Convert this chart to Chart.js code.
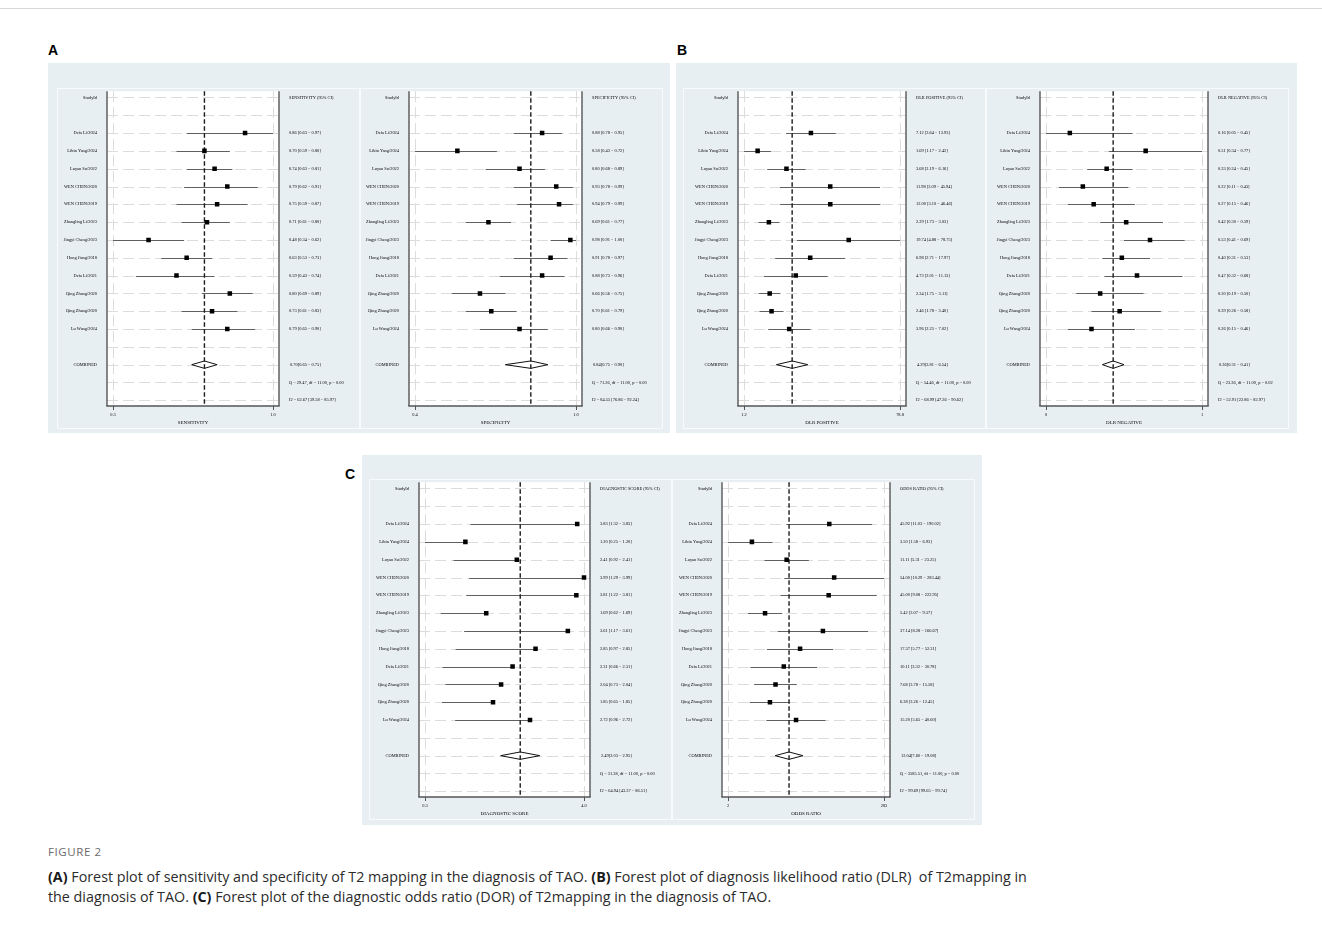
<!DOCTYPE html>
<html>
<head>
<meta charset="utf-8">
<script src="https://cdn.jsdelivr.net/npm/chart.js@4.4.1/dist/chart.umd.min.js"></script>
<style>
  html, body { margin: 0; padding: 0; background: #fff; }
  body { width: 1322px; height: 933px; position: relative; overflow: hidden; }
  .topline { position: absolute; left: 0; top: 8px; width: 1322px; height: 1px; background: #d8d8d8; }
  .panel { position: absolute; background: #e8eff2; }
  .box { position: absolute; box-sizing: border-box; border: 1px solid #f8fbfc; }
  canvas { position: absolute; }
  .plabel { position: absolute; font: bold 14px "Liberation Sans", Arial, sans-serif; color: #000; }
  .figno { position: absolute; left: 48px; top: 844px; font: 11.5px "Open Sans", sans-serif; letter-spacing: 0.6px; color: #6b6b6b; }
  .cap { position: absolute; left: 48px; font: 14.3px "Open Sans", sans-serif; color: #2b2b2b; white-space: nowrap; }
  .cap b { font-weight: 700; color: #1a1a1a; }
</style>
</head>
<body>
<div class="topline"></div>

<div class="panel" style="left:48px;top:63px;width:622px;height:370px"></div>
<div class="panel" style="left:676px;top:63px;width:621px;height:370px"></div>
<div class="panel" style="left:362px;top:455px;width:620px;height:370px"></div>

<div class="plabel" style="left:48px;top:42px">A</div>
<div class="plabel" style="left:677px;top:42px">B</div>
<div class="plabel" style="left:345px;top:466px">C</div>

<div class="figno">FIGURE 2</div>
<div class="cap" style="top:867px"><b>(A)</b> Forest plot of sensitivity and specificity of T2 mapping in the diagnosis of TAO. <b>(B)</b> Forest plot of diagnosis likelihood ratio (DLR)&nbsp; of T2mapping in</div>
<div class="cap" style="top:887px">the diagnosis of TAO. <b>(C)</b> Forest plot of the diagnostic odds ratio (DOR) of T2mapping in the diagnosis of TAO.</div>

<script>
// ---- study list shared by every forest plot ----
const studies = ['Defa Li/2024', 'Libin Yang/2024', 'Luyan Su/2022', 'WEN CHEN/2020', 'WEN CHEN/2019',
  'Zhangling Li/2023', 'Jingyi Cheng/2023', 'Hong Jiang/2018', 'Defa Li/2021', 'Qing Zhang/2020',
  'Qing Zhang/2020', 'Lu Wang/2024'];

// ---- sensitivity ----
const sensEst = [0.86, 0.70, 0.74, 0.79, 0.75, 0.71, 0.48, 0.63, 0.59, 0.80, 0.73, 0.79];
const sensLo  = [0.63, 0.59, 0.63, 0.62, 0.59, 0.61, 0.34, 0.53, 0.43, 0.69, 0.61, 0.65];
const sensHi  = [0.97, 0.80, 0.81, 0.91, 0.87, 0.80, 0.62, 0.73, 0.74, 0.89, 0.83, 0.90];
const sensPooled = [0.70, 0.65, 0.75];
const sensStats = ['Q = 29.47, df = 11.00, p = 0.00', 'I2 = 62.67 [39.58 \u2212 85.97]'];
const sensTicks = [0.34, 0.97];
const sensTickLabels = ['0.3', '1.0'];

// ---- specificity ----
const specEst = [0.88, 0.58, 0.80, 0.93, 0.94, 0.69, 0.98, 0.91, 0.88, 0.66, 0.70, 0.80];
const specLo  = [0.78, 0.43, 0.68, 0.78, 0.79, 0.61, 0.91, 0.78, 0.73, 0.56, 0.61, 0.66];
const specHi  = [0.95, 0.72, 0.89, 0.99, 0.99, 0.77, 1.00, 0.97, 0.96, 0.75, 0.79, 0.90];
const specPooled = [0.84, 0.75, 0.90];
const specStats = ['Q = 71.26, df = 11.00, p = 0.00', 'I2 = 84.55 [76.86 \u2212 92.24]'];
const specTicks = [0.43, 1.00];
const specTickLabels = ['0.4', '1.0'];

// ---- positive likelihood ratio ----
const dlrpEst = [7.12, 1.69, 3.68, 11.98, 12.00, 2.29, 19.74, 6.98, 4.73, 2.34, 2.46, 3.96];
const dlrpLo  = [3.64, 1.17, 2.19, 3.09, 3.10, 1.73, 4.88, 2.71, 2.01, 1.75, 1.78, 2.25];
const dlrpHi  = [13.93, 2.42, 6.16, 45.94, 46.46, 3.03, 78.75, 17.97, 11.13, 3.11, 3.40, 7.02];
const dlrpPooled = [4.29, 2.81, 6.54];
const dlrpStats = ['Q = 54.46, df = 11.00, p = 0.00', 'I2 = 68.99 [47.36 \u2212 90.62]'];
const dlrpTicks = [1.17, 78.75];
const dlrpTickLabels = ['1.2', '78.8'];

// ---- negative likelihood ratio ----
const dlrnEst = [0.16, 0.51, 0.33, 0.22, 0.27, 0.42, 0.53, 0.40, 0.47, 0.30, 0.39, 0.26];
const dlrnLo  = [0.05, 0.34, 0.24, 0.11, 0.15, 0.30, 0.41, 0.31, 0.32, 0.19, 0.26, 0.15];
const dlrnHi  = [0.45, 0.77, 0.45, 0.43, 0.46, 0.59, 0.69, 0.53, 0.68, 0.50, 0.58, 0.46];
const dlrnPooled = [0.36, 0.31, 0.41];
const dlrnStats = ['Q = 23.36, df = 11.00, p = 0.02', 'I2 = 52.91 [22.86 \u2212 82.97]'];
const dlrnTicks = [0.05, 0.77];
const dlrnTickLabels = ['0', '1'];

// ---- diagnostic score ----
const dsEst = [3.83, 1.20, 2.41, 3.99, 3.81, 1.69, 3.61, 2.85, 2.31, 2.04, 1.85, 2.72];
const dsLo  = [1.32, 0.25, 0.92, 1.29, 1.22, 0.62, 1.17, 0.97, 0.66, 0.73, 0.65, 0.96];
const dsHi  = [3.83, 1.20, 2.41, 3.99, 3.81, 1.69, 3.61, 2.85, 2.31, 2.04, 1.85, 2.72];
const dsPooled = [2.49, 2.03, 2.95];
const dsStats = ['Q = 31.38, df = 11.00, p = 0.00', 'I2 = 64.94 [43.37 \u2212 86.51]'];
const dsTicks = [0.25, 3.99];
const dsTickLabels = ['0.3', '4.0'];

// ---- diagnostic odds ratio ----
const orEst = [45.92, 3.50, 11.11, 54.00, 45.00, 5.42, 37.14, 17.37, 10.11, 7.68, 6.38, 15.20];
const orLo  = [11.03, 1.58, 5.31, 10.29, 9.08, 3.07, 8.28, 5.77, 3.32, 3.78, 3.26, 5.65];
const orHi  = [190.02, 6.93, 23.25, 283.44, 222.95, 9.57, 166.67, 52.31, 30.78, 15.58, 12.45, 40.60];
const orPooled = [12.04, 7.60, 19.08];
const orStats = ['Q = 3585.51, df = 11.00, p = 0.00', 'I2 = 99.69 [99.65 \u2212 99.74]'];
const orTicks = [1.58, 283.44];
const orTickLabels = ['2', '283'];

// row layout: header, blank, 12 studies, blank, pooled, Q, I2
const ROW_FIRST = 2, ROW_POOLED = 15, ROW_Q = 16, ROW_I2 = 17;
const SERIF = '"Liberation Serif", "Times New Roman", serif';

const f2 = v => v.toFixed(2);
const ciText = (e, l, h) => `${f2(e)} [${f2(l)} \u2212 ${f2(h)}]`;
const pooledText = p => `${f2(p[0])}[${f2(p[1])} \u2212 ${f2(p[2])}]`;

function line(ctx, x1, y1, x2, y2) {
  ctx.beginPath(); ctx.moveTo(x1, y1); ctx.lineTo(x2, y2); ctx.stroke();
}

function forestPlugin(s) {
  return {
    id: 'forest',
    beforeDatasetsDraw(chart) {
      const { ctx, chartArea: a, scales: { x, y } } = chart;
      ctx.save();
      ctx.fillStyle = '#ffffff';
      ctx.fillRect(a.left, a.top, a.right - a.left, a.bottom - a.top);

      // dashed grid: one line per row, one per axis tick
      ctx.strokeStyle = '#dcdcdc';
      ctx.lineWidth = 1;
      ctx.setLineDash([11, 5]);
      for (let r = 0; r <= ROW_I2; r++) {
        const py = Math.round(y.getPixelForValue(r)) + 0.5;
        line(ctx, a.left, py, a.right, py);
      }
      s.ticks.forEach(t => {
        const px = Math.round(x.getPixelForValue(t)) + 0.5;
        line(ctx, px, a.top, px, a.bottom);
      });

      // confidence intervals
      ctx.setLineDash([]);
      ctx.strokeStyle = '#606060';
      ctx.lineWidth = 1;
      s.lo.forEach((l, i) => {
        const py = Math.round(y.getPixelForValue(ROW_FIRST + i)) + 0.5;
        line(ctx, x.getPixelForValue(l), py, x.getPixelForValue(s.hi[i]), py);
      });

      // pooled diamond
      const [pe, pl, ph] = s.pooled;
      const dy = y.getPixelForValue(ROW_POOLED);
      const cx = x.getPixelForValue(pe);
      ctx.beginPath();
      ctx.moveTo(x.getPixelForValue(pl), dy);
      ctx.lineTo(cx, dy - 3.7);
      ctx.lineTo(x.getPixelForValue(ph), dy);
      ctx.lineTo(cx, dy + 3.7);
      ctx.closePath();
      ctx.fillStyle = '#fff';
      ctx.fill();
      ctx.strokeStyle = '#111';
      ctx.lineWidth = 1;
      ctx.stroke();

      // dashed reference line at the pooled estimate
      ctx.setLineDash([4.6, 2.4]);
      ctx.strokeStyle = '#1c1c1c';
      ctx.lineWidth = 1.4;
      line(ctx, cx, a.top, cx, a.bottom);
      ctx.restore();
    },
    afterDatasetsDraw(chart) {
      const { ctx, chartArea: a, scales: { x, y } } = chart;
      ctx.save();
      // frame: left, right and bottom edges of the plot region
      ctx.strokeStyle = '#555';
      ctx.lineWidth = 1.4;
      line(ctx, a.left, a.top, a.left, a.bottom);
      line(ctx, a.right, a.top, a.right, a.bottom);
      line(ctx, a.left - 0.7, a.bottom, a.right + 0.7, a.bottom);
      ctx.lineWidth = 1;
      s.ticks.forEach(t => {
        const px = Math.round(x.getPixelForValue(t)) + 0.5;
        line(ctx, px, a.bottom, px, a.bottom + 4);
      });

      // tick labels and axis title
      ctx.fillStyle = '#000';
      ctx.textBaseline = 'middle';
      ctx.textAlign = 'center';
      ctx.font = `4.4px ${SERIF}`;
      s.ticks.forEach((t, i) => ctx.fillText(s.tickLabels[i], x.getPixelForValue(t), a.bottom + 8.5));
      ctx.font = `5px ${SERIF}`;
      ctx.fillText(s.title, (a.left + a.right) / 2, a.bottom + 16.5);

      // left column: study names
      ctx.font = `4.4px ${SERIF}`;
      ctx.textAlign = 'right';
      const lx = a.left - 10;
      ctx.fillText('StudyId', lx, y.getPixelForValue(0));
      studies.forEach((n, i) => ctx.fillText(n, lx, y.getPixelForValue(ROW_FIRST + i)));
      ctx.fillText('COMBINED', lx, y.getPixelForValue(ROW_POOLED));

      // right column: estimates with intervals
      ctx.textAlign = 'left';
      const rx = a.right + 10;
      ctx.fillText(`${s.title} (95% CI)`, rx, y.getPixelForValue(0));
      s.est.forEach((e, i) => ctx.fillText(ciText(e, s.lo[i], s.hi[i]), rx, y.getPixelForValue(ROW_FIRST + i)));
      ctx.fillText(pooledText(s.pooled), rx + 1, y.getPixelForValue(ROW_POOLED));
      ctx.fillText(s.stats[0], rx, y.getPixelForValue(ROW_Q));
      ctx.fillText(s.stats[1], rx, y.getPixelForValue(ROW_I2));
      ctx.restore();
    }
  };
}

function forest(s) {
  const W = 303, H = 341, plotH = 318;
  const box = document.createElement('div');
  box.className = 'box';
  Object.assign(box.style, { left: s.left + 'px', top: s.top + 'px', width: W + 'px', height: H + 'px' });
  document.body.appendChild(box);

  const cv = document.createElement('canvas');
  cv.width = W; cv.height = H;
  Object.assign(cv.style, { left: s.left + 'px', top: s.top + 'px', width: W + 'px', height: H + 'px' });
  document.body.appendChild(cv);

  // axis range: the outer ticks sit 6px inside the plot edges
  const span = s.plotW - 12, k = 6 / span;
  let min, max;
  if (s.log) {
    const a = Math.log(s.ticks[0]), b = Math.log(s.ticks[1]);
    min = Math.exp(a - (b - a) * k); max = Math.exp(b + (b - a) * k);
  } else {
    const a = s.ticks[0], b = s.ticks[1];
    min = a - (b - a) * k; max = b + (b - a) * k;
  }

  new Chart(cv, {
    type: 'scatter',
    data: {
      datasets: [{
        data: s.est.map((v, i) => ({ x: v, y: ROW_FIRST + i })),
        pointStyle: 'rect',
        pointRadius: 3.2,
        pointHoverRadius: 3.2,
        backgroundColor: '#000',
        borderColor: '#000',
        borderWidth: 0
      }]
    },
    options: {
      responsive: false,
      animation: false,
      devicePixelRatio: 1,
      events: [],
      layout: { padding: { left: s.padL, right: W - s.padL - s.plotW, top: 0, bottom: H - plotH } },
      plugins: { legend: { display: false }, tooltip: { enabled: false } },
      scales: {
        x: { type: s.log ? 'logarithmic' : 'linear', min, max, display: false },
        y: { type: 'linear', min: -0.35, max: ROW_I2 + 0.32, reverse: true, display: false }
      }
    },
    plugins: [forestPlugin(s)]
  });
}

forest({ left: 57, top: 88, padL: 50, plotW: 172, title: 'SENSITIVITY', log: false,
  est: sensEst, lo: sensLo, hi: sensHi, pooled: sensPooled, stats: sensStats, ticks: sensTicks, tickLabels: sensTickLabels });
forest({ left: 360, top: 88, padL: 49, plotW: 173, title: 'SPECIFICITY', log: false,
  est: specEst, lo: specLo, hi: specHi, pooled: specPooled, stats: specStats, ticks: specTicks, tickLabels: specTickLabels });
forest({ left: 683, top: 88, padL: 55, plotW: 168, title: 'DLR POSITIVE', log: true,
  est: dlrpEst, lo: dlrpLo, hi: dlrpHi, pooled: dlrpPooled, stats: dlrpStats, ticks: dlrpTicks, tickLabels: dlrpTickLabels });
forest({ left: 986, top: 88, padL: 54, plotW: 168, title: 'DLR NEGATIVE', log: false,
  est: dlrnEst, lo: dlrnLo, hi: dlrnHi, pooled: dlrnPooled, stats: dlrnStats, ticks: dlrnTicks, tickLabels: dlrnTickLabels });
forest({ left: 369, top: 479, padL: 50, plotW: 171, title: 'DIAGNOSTIC SCORE', log: false,
  est: dsEst, lo: dsLo, hi: dsHi, pooled: dsPooled, stats: dsStats, ticks: dsTicks, tickLabels: dsTickLabels });
forest({ left: 672, top: 479, padL: 50, plotW: 168, title: 'ODDS RATIO', log: true,
  est: orEst, lo: orLo, hi: orHi, pooled: orPooled, stats: orStats, ticks: orTicks, tickLabels: orTickLabels });
</script>
</body>
</html>
